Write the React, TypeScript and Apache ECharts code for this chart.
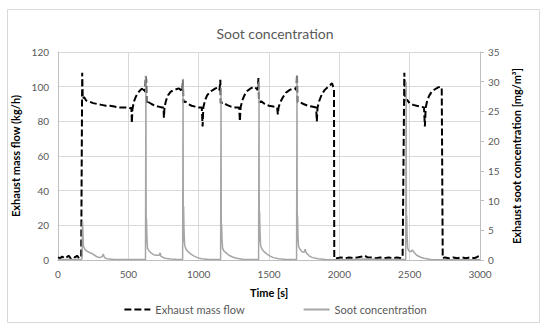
import React, { useEffect, useRef } from "react";
import * as echarts from "echarts";

// Exhaust mass flow (kg/h) vs time (s)
const massFlow: [number, number][] = [
  [0, 1.5], [15, 1], [30, 2], [45, 1], [60, 1.5], [75, 2.5], [90, 1], [105, 2], [120, 1.5], [135, 2.5], [150, 1], [165, 2],
  [170, 2], [172, 108], [176, 93], [185, 94], [200, 92], [220, 91.5], [250, 90.5], [280, 90], [310, 89.5], [340, 89], [370, 89],
  [400, 88.5], [430, 88], [460, 88], [490, 88], [515, 87.5], [522, 88], [525, 79], [529, 87], [540, 91.5], [555, 94.5],
  [570, 96.5], [585, 98], [598, 99], [605, 97], [612, 98.5], [620, 97], [624, 106],
  [627, 104], [630, 90], [645, 91], [665, 90], [690, 89], [715, 88.5], [740, 88], [750, 88], [753, 82], [757, 88], [768, 92],
  [782, 95], [800, 97], [820, 98], [840, 98.5], [860, 99], [875, 98], [884, 97], [888, 104],
  [891, 91], [905, 91.5], [925, 90], [950, 89], [975, 88.5], [1000, 88], [1022, 88], [1028, 77], [1033, 88], [1045, 92],
  [1060, 95], [1080, 97], [1100, 98], [1120, 99], [1138, 99.5], [1148, 98], [1154, 104],
  [1157, 90.5], [1175, 91], [1200, 89.5], [1230, 88.5], [1260, 88], [1288, 88], [1293, 80], [1298, 88], [1310, 92],
  [1325, 95], [1345, 97.5], [1370, 99], [1395, 100], [1410, 99], [1420, 98], [1425, 105],
  [1429, 91], [1445, 91.5], [1470, 90], [1500, 89], [1530, 88.5], [1558, 88], [1563, 84], [1568, 88], [1580, 91],
  [1600, 94], [1620, 96.5], [1645, 98], [1670, 99], [1688, 99], [1695, 98], [1699, 107],
  [1702, 91], [1720, 91], [1745, 90], [1775, 89], [1805, 88.5], [1835, 88], [1840, 80], [1845, 88], [1858, 92],
  [1875, 95.5], [1895, 98], [1915, 99.5], [1935, 101], [1948, 102], [1956, 100], [1962, 99], [1964, 1],
  [1985, 1], [2010, 1.5], [2040, 1], [2070, 1.5], [2100, 1], [2130, 1.5], [2160, 2], [2180, 2.5], [2200, 1.5], [2230, 1.5],
  [2260, 1], [2290, 1.5], [2320, 1], [2350, 1.5], [2380, 1], [2410, 1.5], [2440, 1], [2450, 2],
  [2462, 108], [2468, 92], [2480, 92.5], [2500, 90.5], [2525, 89.5], [2550, 89], [2580, 88.5], [2602, 88], [2608, 77],
  [2614, 88], [2625, 92], [2640, 95], [2660, 97.5], [2680, 98.5], [2700, 99.5], [2718, 100], [2728, 99], [2735, 1],
  [2750, 1.5], [2780, 1], [2810, 1.5], [2840, 1], [2870, 1.5], [2900, 1], [2930, 1.5], [2960, 1], [2985, 2], [3000, 2.5],
];

// Exhaust soot concentration (mg/m3) vs time (s)
const sootConc: [number, number][] = [
  [0, 0.1], [50, 0.1], [100, 0.1], [150, 0.1], [168, 0.1], [172, 0.5], [174, 6.5], [177, 5], [180, 2.5], [186, 2],
  [195, 1.7], [205, 1.5], [220, 1.3], [240, 1.1], [260, 0.8], [280, 0.5], [300, 0.4], [315, 0.6], [322, 1.0], [330, 0.4],
  [350, 0.2], [400, 0.1], [500, 0.1], [600, 0.1], [622, 0.1],
  [625, 31], [627, 3], [629, 7], [632, 4], [636, 2], [645, 1.6], [660, 1.2], [680, 0.9], [700, 0.8], [720, 0.8], [726, 1.2],
  [732, 0.6], [760, 0.3], [800, 0.15], [850, 0.1], [886, 0.1],
  [889, 30.5], [891, 3], [893, 9], [896, 5], [900, 2.5], [910, 1.8], [925, 1.4], [945, 1], [965, 0.7], [990, 0.4],
  [1020, 0.2], [1080, 0.1], [1156, 0.1],
  [1159, 29], [1161, 3], [1163, 6], [1166, 3.5], [1170, 2], [1180, 1.5], [1195, 1.2], [1215, 0.8], [1240, 0.5], [1270, 0.3],
  [1320, 0.1], [1426, 0.1],
  [1429, 30], [1431, 3], [1433, 8.2], [1436, 5], [1440, 2.5], [1450, 1.8], [1465, 1.4], [1485, 1], [1505, 0.7], [1530, 0.4],
  [1570, 0.2], [1620, 0.1], [1696, 0.1],
  [1699, 31], [1701, 3], [1703, 7.5], [1706, 4], [1710, 2.3], [1720, 1.8], [1735, 1.4], [1750, 1.3], [1757, 1.8], [1765, 1.2],
  [1785, 0.7], [1810, 0.4], [1850, 0.2], [1900, 0.1], [2000, 0.05], [2100, 0.1], [2200, 0.15], [2300, 0.1], [2400, 0.1],
  [2472, 0.1],
  [2475, 30], [2477, 3], [2479, 7.5], [2482, 4], [2486, 2], [2495, 1.5], [2510, 1.4], [2520, 1.7], [2530, 1.3], [2550, 0.8],
  [2575, 0.5], [2600, 0.3], [2650, 0.1], [2750, 0.05], [3000, 0.05],
];

const FONT = "Lato, 'Noto Sans', sans-serif";
const LABEL = "#595959";
const GRID = "#d9d9d9";
const plain = (v: number) => String(v);

export default function App() {
  const ref = useRef<HTMLDivElement>(null);
  useEffect(() => {
    if (!ref.current) return;
    const chart = echarts.init(ref.current, undefined, { renderer: "svg" });
    chart.setOption({
      animation: false,
      backgroundColor: "#ffffff",
      textStyle: { fontFamily: FONT },
      title: {
        text: "Soot concentration",
        left: "center",
        top: 21,
        textStyle: { fontFamily: FONT, fontSize: 14, fontWeight: "normal", color: LABEL },
      },
      graphic: [
        {
          type: "rect",
          shape: { x: 7.5, y: 9.5, width: 532, height: 313 },
          style: { fill: "none", stroke: GRID, lineWidth: 1 },
          silent: true,
        },
      ],
      legend: {
        top: 299,
        left: "center",
        itemWidth: 26,
        itemHeight: 10,
        itemGap: 58,
        textStyle: { fontFamily: FONT, fontSize: 11, color: LABEL },
        data: [
          { name: "Exhaust mass flow", itemStyle: { opacity: 0 } },
          { name: "Soot concentration", itemStyle: { opacity: 0 } },
        ],
      },
      grid: { left: 58, right: 70, top: 52, bottom: 69 },
      xAxis: {
        type: "value",
        min: 0,
        max: 3000,
        interval: 500,
        name: "Time [s]",
        nameLocation: "middle",
        nameGap: 27,
        nameTextStyle: { fontFamily: FONT, fontSize: 11, fontWeight: "bold", color: "#000" },
        axisLine: { show: true, lineStyle: { color: "#bfbfbf" } },
        axisTick: { show: false },
        axisLabel: { color: LABEL, fontSize: 10, margin: 9, fontFamily: FONT, formatter: plain },
        splitLine: { show: true, lineStyle: { color: GRID } },
      },
      yAxis: [
        {
          type: "value",
          min: 0,
          max: 120,
          interval: 20,
          name: "Exhaust mass flow (kg/h)",
          nameLocation: "middle",
          nameGap: 30,
          nameRotate: 90,
          nameTextStyle: { fontFamily: FONT, fontSize: 11, fontWeight: "bold", color: "#000" },
          axisLine: { show: true, lineStyle: { color: "#bfbfbf" } },
          axisTick: { show: false },
          axisLabel: { color: LABEL, fontSize: 10, margin: 9, fontFamily: FONT, formatter: plain },
          splitLine: { show: true, lineStyle: { color: GRID } },
        },
        {
          type: "value",
          position: "right",
          min: 0,
          max: 35,
          interval: 5,
          name: "Exhaust soot concentration [mg/m³]",
          nameLocation: "middle",
          nameGap: 26,
          nameRotate: 90,
          nameTextStyle: { fontFamily: FONT, fontSize: 11, fontWeight: "bold", color: "#000" },
          axisLine: { show: true, lineStyle: { color: "#bfbfbf" } },
          axisTick: { show: true, length: 4, lineStyle: { color: "#bfbfbf" } },
          axisLabel: { color: LABEL, fontSize: 10, margin: 8, fontFamily: FONT, formatter: plain },
          splitLine: { show: false },
        },
      ],
      series: [
        {
          name: "Exhaust mass flow",
          type: "line",
          yAxisIndex: 0,
          data: massFlow,
          showSymbol: false,
          symbol: "none",
          color: "#000000",
          lineStyle: { color: "#000000", width: 2, type: [7, 3] },
        },
        {
          name: "Soot concentration",
          type: "line",
          yAxisIndex: 1,
          data: sootConc,
          showSymbol: false,
          symbol: "none",
          color: "#a6a6a6",
          lineStyle: { color: "#a6a6a6", width: 1.5 },
        },
      ],
    });
    return () => chart.dispose();
  }, []);
  return (
    <div
      ref={ref}
      style={{ position: "absolute", left: 0, top: 0, width: 550, height: 329 }}
    />
  );
}
